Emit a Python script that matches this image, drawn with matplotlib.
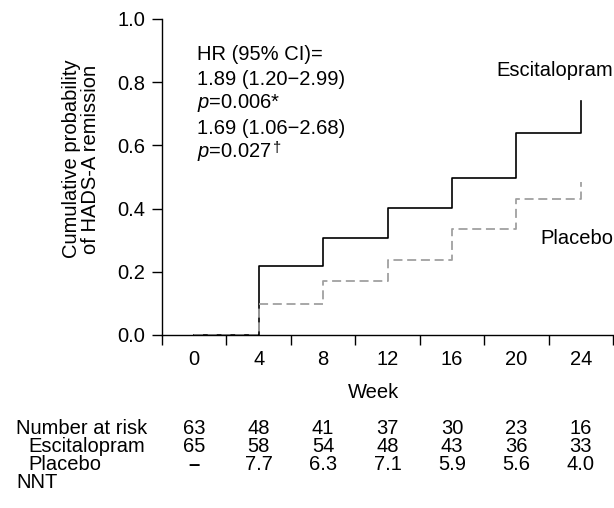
import matplotlib
matplotlib.use("Agg")
import matplotlib.pyplot as plt
from matplotlib.transforms import blended_transform_factory

plt.rcParams['font.family'] = ['Liberation Sans', 'DejaVu Sans']
plt.rcParams['mathtext.fontset'] = 'custom'
plt.rcParams['mathtext.rm'] = 'Liberation Sans'
plt.rcParams['mathtext.it'] = 'Liberation Sans:italic'

# ---- data ----
weeks = [0, 4, 8, 12, 16, 20, 24]
escitalopram = [0.0, 0.218, 0.307, 0.401, 0.496, 0.638, 0.74]
placebo = [0.0, 0.099, 0.171, 0.237, 0.336, 0.431, 0.484]
yticks = [0.0, 0.2, 0.4, 0.6, 0.8, 1.0]
xtick_marks = [-2, 2, 6, 10, 14, 18, 22, 26]

table_labels = ["Number at risk", "Escitalopram", "Placebo", "NNT"]
row1 = ["63", "48", "41", "37", "30", "23", "16"]
row2 = ["65", "58", "54", "48", "43", "36", "33"]
row3 = ["\u2013", "7.7", "6.3", "7.1", "5.9", "5.6", "4.0"]

W, H = 614, 508
FS = 14.5

fig = plt.figure(figsize=(W / 100, H / 100), dpi=100)
ax = fig.add_axes([162 / W, 1 - 335 / H, (613 - 162) / W, (335 - 19) / H])

ax.step(weeks, escitalopram, where='post', color='black', lw=1.2)
ax.step(weeks, placebo, where='post', color='#a0a0a0', lw=1.3,
        linestyle=(0, (5, 2.6)))

ax.set_xlim(-2, 26)
ax.set_ylim(0, 1.0)
for s in ['top', 'right']:
    ax.spines[s].set_visible(False)
for s in ['left', 'bottom']:
    ax.spines[s].set_linewidth(1.0)

ax.set_yticks(yticks)
ax.set_yticklabels([f"{v:.1f}" for v in yticks])
ax.set_xticks(xtick_marks)
ax.set_xticklabels([""] * len(xtick_marks))
ax.set_xticks(weeks, minor=True)
ax.set_xticklabels([str(w) for w in weeks], minor=True)
ax.tick_params(axis='x', which='major', direction='out', length=7, width=1.0)
ax.tick_params(axis='x', which='minor', length=0, pad=11, labelsize=FS)
ax.tick_params(axis='y', direction='out', length=7, width=1.0, pad=5,
               labelsize=FS)

# y label
fig.text(81 / W, 1 - 159 / H, "Cumulative probability\nof HADS-A remission",
         rotation=90, ha='center', va='center', fontsize=FS, linespacing=0.95)

# x label
fig.text(374 / W, 1 - 392 / H, "Week", ha='center', va='center', fontsize=FS)

# annotation text
ann = ["HR (95% CI)=", "1.89 (1.20\u22122.99)", "$p$=0.006*",
       "1.69 (1.06\u22122.68)", "$p$=0.027"]
ann_y = [55, 80, 103, 128, 152]
last = None
for t, y in zip(ann, ann_y):
    last = fig.text(197 / W, 1 - y / H, t, ha='left', va='center', fontsize=FS)

fig.canvas.draw()
bb = last.get_window_extent(renderer=fig.canvas.get_renderer())
fig.text((bb.x1 + 1) / W, (H - 141) / H, "\u2020", ha='left', va='top',
         fontsize=10.5)

fig.text(613 / W, 1 - 71 / H, "Escitalopram", ha='right', va='center', fontsize=FS)
fig.text(613 / W, 1 - 239 / H, "Placebo", ha='right', va='center', fontsize=FS)

# number-at-risk table
row_y = [429, 447, 465, 483]
label_x = [16, 28, 28, 16]
for lab, x, y in zip(table_labels, label_x, row_y):
    fig.text(x / W, 1 - y / H, lab, ha='left', va='center', fontsize=FS)

trans = blended_transform_factory(ax.transData, fig.transFigure)
for row, y in zip([row1, row2, row3], row_y[:3]):
    for w, v in zip(weeks, row):
        ax.text(w, 1 - y / H, v, transform=trans, ha='center', va='center',
                fontsize=FS, clip_on=False,
                fontweight='bold' if v == "\u2013" else 'normal')

fig.savefig("out.png", dpi=100)
